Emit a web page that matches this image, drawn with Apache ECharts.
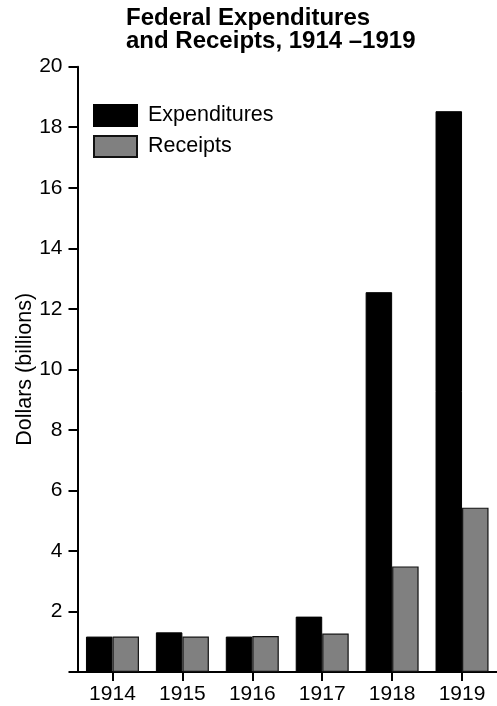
<!DOCTYPE html>
<html>
<head>
<meta charset="utf-8">
<script src="https://cdn.jsdelivr.net/npm/echarts@6/dist/echarts.min.js"></script>
<style>
html,body{margin:0;padding:0;background:#fff;}
#chart{width:497px;height:706px;}
</style>
</head>
<body>
<div id="chart"></div>
<script>
const categories = ['1914', '1915', '1916', '1917', '1918', '1919'];
const expenditures = [1.17, 1.31, 1.17, 1.83, 12.55, 18.53];
const receipts = [1.17, 1.17, 1.19, 1.27, 3.49, 5.43];
const yTicks = [0, 2, 4, 6, 8, 10, 12, 14, 16, 18, 20];

const FONT = '"Liberation Sans", Arial, Helvetica, sans-serif';
const chart = echarts.init(document.getElementById('chart'));
chart.setOption({
  backgroundColor: '#fff',
  animation: false,
  textStyle: { fontFamily: FONT, color: '#000' },
  title: {
    text: 'Federal Expenditures\nand Receipts, 1914 \u20131919',
    left: 121,
    top: 2,
    textStyle: { fontFamily: FONT, fontSize: 24, fontWeight: 'bold', color: '#000', lineHeight: 23 }
  },
  legend: {
    orient: 'vertical',
    left: 88,
    top: 99,
    itemWidth: 43,
    itemHeight: 21,
    itemGap: 8,
    icon: 'rect',
    textStyle: { fontFamily: FONT, fontSize: 21.5, color: '#000', padding: [0, 0, 0, 6] },
    data: ['Expenditures', 'Receipts']
  },
  grid: { left: 77.5, right: -1, top: 66.7, bottom: 34, containLabel: false },
  xAxis: {
    type: 'category',
    data: categories,
    axisLine: { show: true, lineStyle: { color: '#000', width: 2 } },
    axisTick: { show: true, alignWithLabel: true, length: 9, lineStyle: { color: '#000', width: 2 } },
    axisLabel: { color: '#000', fontSize: 21, fontFamily: FONT, margin: 12 },
    splitLine: { show: false }
  },
  yAxis: {
    type: 'value',
    min: yTicks[0],
    max: yTicks[yTicks.length - 1],
    interval: 2,
    name: 'Dollars (billions)',
    nameLocation: 'middle',
    nameGap: 41,
    nameMoveOverlap: false,
    nameTextStyle: { fontFamily: FONT, fontSize: 21.5, color: '#000' },
    axisLine: { show: true, lineStyle: { color: '#000', width: 2 } },
    axisTick: { show: true, length: 9, lineStyle: { color: '#000', width: 2 } },
    axisLabel: {
      color: '#000', fontSize: 21, fontFamily: FONT, margin: 15,
      formatter: v => (v === 0 ? '' : String(v))
    },
    splitLine: { show: false }
  },
  series: [
    {
      name: 'Expenditures',
      type: 'bar',
      data: expenditures,
      barWidth: 26.5,
      barGap: '0%',
      itemStyle: { color: '#000', borderColor: '#000', borderWidth: 1 }
    },
    {
      name: 'Receipts',
      type: 'bar',
      data: receipts,
      barWidth: 26.5,
      barGap: '0%',
      itemStyle: { color: '#808080', borderColor: '#111', borderWidth: 1.2 }
    }
  ]
});
</script>
</body>
</html>
